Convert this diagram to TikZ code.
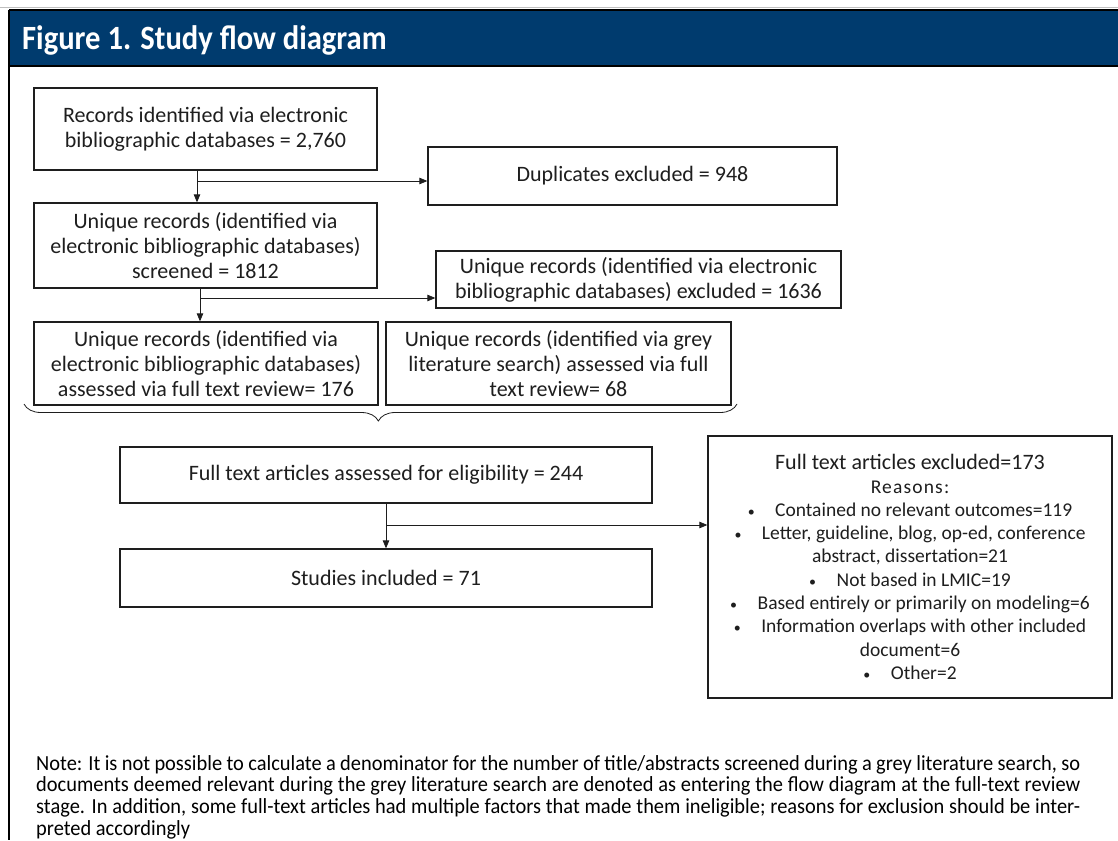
\documentclass[tikz,border=0pt]{standalone}
\usepackage{fontspec}
\setmainfont{Carlito}
\newfontfamily\notefont[FakeStretch=0.95]{Carlito}
\newfontfamily\titlefont[FakeStretch=0.9]{Carlito}
\usetikzlibrary{arrows.meta,decorations.pathreplacing}
\definecolor{hdr}{RGB}{0,59,110}
\definecolor{ink}{RGB}{30,30,30}
\newcommand{\bul}{{\fontsize{14}{14}\selectfont\textbullet}\hspace{1.05em}}
\begin{document}
\begin{tikzpicture}[x=1pt,y=-1pt,
  box/.style={draw=ink, line width=1.3pt, text=ink, align=center,
    font=\fontsize{22}{25}\selectfont, inner sep=0pt},
  arr/.style={draw=ink, line width=0.8pt, -{Triangle[length=8pt,width=6.5pt]}},
  plain/.style={draw=ink, line width=0.8pt}]
\useasboundingbox (0,0) rectangle (1118,840);
\fill[white] (0,0) rectangle (1118,840);
% header
\draw[gray!50, line width=1pt] (0,7.5) -- (1118,7.5);
\fill[hdr] (9,10) rectangle (1118,66);
\draw[black, line width=1.5pt] (9,10) -- (1118,10);
\draw[black, line width=2pt] (9,66) -- (1118,66);
\draw[black, line width=1.3pt] (9,10) -- (9,840);
\node[anchor=base west, text=white, inner sep=0pt,
  font=\titlefont\bfseries\fontsize{34}{36}\selectfont] (title) at (22,50) {Figure 1. Study flow diagram};
% boxes
\node[box, minimum width=343pt, minimum height=82pt] (b1) at (205.5,129)
  {Records identified via electronic\\bibliographic databases = 2,760};
\node[box, minimum width=409pt, minimum height=58pt] (dup) at (632.5,176)
  {Duplicates excluded = 948};
\node[box, minimum width=343pt, minimum height=85pt] (b2) at (205.5,245.5)
  {Unique records (identified via\\electronic bibliographic databases)\\screened = 1812};
\node[box, minimum width=405pt, minimum height=57pt] (ex1) at (638.5,279.5)
  {Unique records (identified via electronic\\bibliographic databases) excluded = 1636};
\node[box, minimum width=344pt, minimum height=83pt] (b3) at (206,363.5)
  {Unique records (identified via\\electronic bibliographic databases)\\assessed via full text review= 176};
\node[box, minimum width=345pt, minimum height=83pt] (grey) at (558.5,363.5)
  {Unique records (identified via grey\\literature search) assessed via full\\text review= 68};
\node[box, minimum width=532pt, minimum height=56pt] (b4) at (386,475)
  {Full text articles assessed for eligibility = 244};
\node[box, minimum width=532pt, minimum height=58pt] (b5) at (386,578)
  {Studies included = 71};
\node[box, minimum width=404pt, minimum height=262pt,
  font=\fontsize{19.5}{23.3}\selectfont] (ex2) at (910,567)
  {{\fontsize{22}{23.3}\selectfont Full text articles excluded=173}\\
   {\addfontfeature{LetterSpace=6}Reasons:}\\
   \bul Contained no relevant outcomes=119\\
   \bul Letter, guideline, blog, op-ed, conference\\
   abstract, dissertation=21\\
   \bul Not based in LMIC=19\\
   \bul Based entirely or primarily on modeling=6\\
   \bul Information overlaps with other included\\
   document=6\\
   \bul Other=2};
% connectors
\coordinate (j1) at (197,181);
\draw[arr] (b1.south -| j1) -- (b2.north -| j1);
\draw[arr] (j1) -- (dup.west |- j1);
\coordinate (j2) at (200,298);
\draw[arr] (b2.south -| j2) -- (b3.north -| j2);
\draw[arr] (j2) -- (ex1.west |- j2);
\coordinate (j3) at (386,525);
\draw[arr] (b4.south -| j3) -- (b5.north -| j3);
\draw[arr] (j3) -- (ex2.west |- j3);
% brace
\coordinate (bl) at (24,404);
\coordinate (br) at (737,404);
\draw[ink, line width=0.8pt, decorate, decoration={brace, mirror, amplitude=17pt, aspect=0.497}] (bl) -- (br);
% note
\node[anchor=north west, text width=1044pt, align=justify, inner sep=0pt, text=black,
  font=\notefont\fontsize{21.5}{21.7}\selectfont] (note) at (36,755)
  {Note: It is not possible to calculate a denominator for the number of title/abstracts screened during a grey literature search, so\linebreak
   documents deemed relevant during the grey literature search are denoted as entering the flow diagram at the full-text review\linebreak
   stage. In addition, some full-text articles had multiple factors that made them ineligible; reasons for exclusion should be inter-\linebreak
   preted accordingly};
\end{tikzpicture}
\end{document}
